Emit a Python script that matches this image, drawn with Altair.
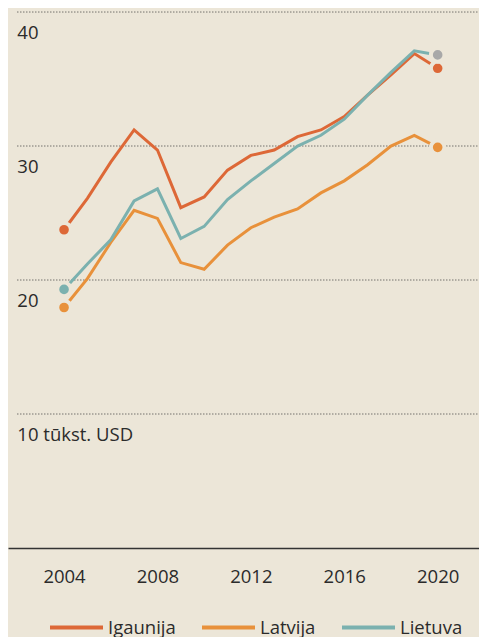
import altair as alt
import pandas as pd

# ---- data ----
years = [2004, 2005, 2006, 2007, 2008, 2009, 2010, 2011, 2012,
         2013, 2014, 2015, 2016, 2017, 2018, 2019, 2020]
igaunija = [23.75, 26.1, 28.8, 31.2, 29.7, 25.4, 26.2, 28.2, 29.3,
            29.7, 30.7, 31.2, 32.2, 33.8, 35.3, 36.9, 35.8]
latvija = [17.95, 20.1, 22.8, 25.2, 24.6, 21.3, 20.8, 22.6, 23.9,
           24.7, 25.3, 26.5, 27.4, 28.6, 30.0, 30.8, 29.9]
lietuva = [19.3, 21.2, 23.0, 25.9, 26.8, 23.1, 24.0, 26.0, 27.4,
           28.7, 30.0, 30.8, 32.0, 33.8, 35.5, 37.1, 36.8]

series_names = ["Igaunija", "Latvija", "Lietuva"]
series_colors = ["#dd6837", "#e8913b", "#7bb1af"]
last_dot_colors = ["#dd6837", "#e8913b", "#a8a8a8"]

grid_values = [10, 20, 30, 40]
grid_labels = ["10 tūkst. USD", "20", "30", "40"]
tick_years = [2004, 2008, 2012, 2016, 2020]

# ---- styling / layout ----
BG = "#ece6d8"
TEXT = "#2b2b2b"
FONT = "Open Sans"
FS = 18.5
X_MIN, X_MAX = 2001.6, 2021.77
GRID_START = 2002
Y_MAX = 40.3
W, H = 471, 540

# ---- tables ----
rows = []
for name, vals in zip(series_names, [igaunija, latvija, lietuva]):
    for yr, v in zip(years, vals):
        rows.append({"series": name, "year": yr, "value": v})
lines_df = pd.DataFrame(rows)

dot_rows = []
for name, vals, c0, c1 in zip(series_names, [igaunija, latvija, lietuva],
                              series_colors, last_dot_colors):
    dot_rows.append({"series": name, "year": years[0], "value": vals[0], "dot": c0})
    dot_rows.append({"series": name, "year": years[-1], "value": vals[-1], "dot": c1})
dots_df = pd.DataFrame(dot_rows)

grid_df = pd.DataFrame({"v": grid_values, "label": grid_labels,
                        "x0": [GRID_START] * 4, "x1": [X_MAX] * 4})

x_scale = alt.Scale(domain=[X_MIN, X_MAX], nice=False, zero=False)
y_scale = alt.Scale(domain=[0, Y_MAX], nice=False, zero=False)
x_axis = alt.Axis(values=tick_years, format="d", grid=False, ticks=False,
                  tickSize=0, domainColor="#333333", domainWidth=1.5,
                  labelFontSize=FS, labelFont=FONT, labelColor=TEXT,
                  labelPadding=28, labelBaseline="middle", labelFlush=False,
                  labelOverlap=False, title=None)

grid = alt.Chart(grid_df).mark_rule(
    color="#3a3a3a", strokeWidth=1, strokeDash=[1, 2]
).encode(
    x=alt.X("x0:Q", scale=x_scale, axis=x_axis),
    x2="x1:Q",
    y=alt.Y("v:Q", scale=y_scale, axis=None),
)

grid_text = alt.Chart(grid_df).mark_text(
    align="left", baseline="middle", dy=21, font=FONT, fontSize=FS, color=TEXT
).encode(
    x=alt.X("x0:Q", scale=x_scale, axis=x_axis),
    y=alt.Y("v:Q", scale=y_scale, axis=None),
    text="label:N",
)

lines = alt.Chart(lines_df).mark_line(strokeWidth=3, strokeJoin="miter").encode(
    x=alt.X("year:Q", scale=x_scale, axis=x_axis),
    y=alt.Y("value:Q", scale=y_scale, axis=None),
    color=alt.Color(
        "series:N",
        scale=alt.Scale(domain=series_names, range=series_colors),
        legend=alt.Legend(
            orient="none", legendX=40, legendY=591, direction="horizontal",
            symbolType="stroke", symbolSize=2809, symbolStrokeWidth=4,
            labelFontSize=FS, labelFont=FONT, labelColor=TEXT,
            labelOffset=3, columnPadding=18, padding=0, title=None,
        ),
    ),
)

dots = alt.Chart(dots_df).mark_point(
    filled=True, size=185, stroke=BG, strokeWidth=4, opacity=1, shape="circle"
).encode(
    x=alt.X("year:Q", scale=x_scale, axis=x_axis),
    y=alt.Y("value:Q", scale=y_scale, axis=None),
    fill=alt.Fill("dot:N", scale=None),
)

chart = alt.layer(grid, grid_text, lines, dots).properties(
    width=W, height=H,
    autosize=alt.AutoSizeParams(type="none"),
    padding={"left": 0, "top": 0, "right": 0, "bottom": 89},
    background=BG,
).configure_view(stroke=None)

chart.save("out.html", embed_options={"renderer": "svg", "actions": False})
